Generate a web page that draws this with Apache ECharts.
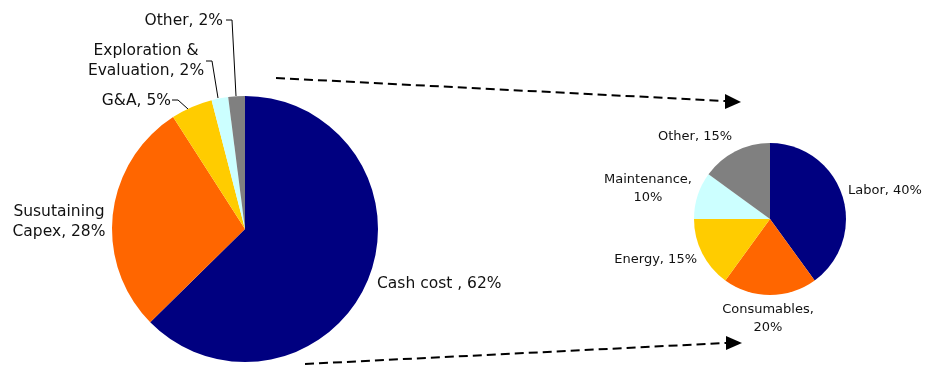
<!DOCTYPE html>
<html>
<head>
<meta charset="utf-8">
<script src="https://cdn.jsdelivr.net/npm/echarts@6/dist/echarts.min.js"></script>
<style>html,body{margin:0;padding:0;background:#fff;}#c{width:929px;height:365px;}</style>
</head>
<body>
<div id="c"></div>
<script>
// ---- data ----
var mainCategories = ['Cash cost ', 'Susutaining\nCapex', 'G&A', 'Exploration &\nEvaluation', 'Other'];
var mainValues = [62, 28, 5, 2, 2];
var cashCategories = ['Labor', 'Consumables,\n', 'Energy', 'Maintenance,\n', 'Other'];
var cashValues = [40, 20, 15, 10, 15];

// ---- styling ----
var colors = ['#000080', '#FF6600', '#FFCC00', '#CCFFFF', '#808080'];
var mainLabelPos = [
  {x: 377, y: 284, align: 'left'},
  {x: 59, y: 222, align: 'center'},
  {x: 171, y: 101, align: 'right', line: [[188, 109], [178, 100], [172, 100]]},
  {x: 146, y: 61, align: 'center', line: [[218, 98], [212, 61], [206, 61]]},
  {x: 223, y: 21, align: 'right', line: [[236, 96], [232, 20], [226, 20]]}
];
var cashLabelPos = [
  {x: 848, y: 191, align: 'left'},
  {x: 768, y: 319, align: 'center'},
  {x: 697, y: 260, align: 'right'},
  {x: 648, y: 189, align: 'center'},
  {x: 695, y: 137, align: 'center'}
];

function fmt(p) {
  var n = p.name;
  if (n.endsWith('\n')) return n + p.value + '%';
  return n + ', ' + p.value + '%';
}
function mkData(cats, vals, pos) {
  return cats.map(function (c, i) {
    return {name: c, value: vals[i], itemStyle: {color: colors[i]}, labelLine: {show: !!pos[i].line}};
  });
}
function layoutFn(pos) {
  return function (params) {
    var p = pos[params.dataIndex];
    var r = {x: p.x, y: p.y, align: p.align, verticalAlign: 'middle'};
    if (p.line) r.labelLinePoints = p.line;
    return r;
  };
}

var chart = echarts.init(document.getElementById('c'));
chart.setOption({
  animation: false,
  backgroundColor: '#fff',
  series: [
    {
      type: 'pie',
      center: [245, 229],
      radius: 133,
      startAngle: 90,
      clockwise: true,
      silent: true,
      data: mkData(mainCategories, mainValues, mainLabelPos),
      label: {
        show: true, position: 'outside', formatter: fmt, overflow: 'none', alignTo: 'none', bleedMargin: 0,
        fontFamily: 'DejaVu Sans', fontSize: 15.5, lineHeight: 20, color: '#111'
      },
      labelLine: {lineStyle: {color: '#000', width: 1}},
      labelLayout: layoutFn(mainLabelPos)
    },
    {
      type: 'pie',
      center: [770, 219],
      radius: 76,
      startAngle: 90,
      clockwise: true,
      silent: true,
      data: mkData(cashCategories, cashValues, cashLabelPos),
      label: {
        show: true, position: 'outside', formatter: fmt, overflow: 'none', alignTo: 'none', bleedMargin: 0,
        fontFamily: 'DejaVu Sans', fontSize: 13, lineHeight: 18, color: '#111'
      },
      labelLine: {lineStyle: {color: '#000', width: 1}},
      labelLayout: layoutFn(cashLabelPos)
    }
  ],
  graphic: [
    {type: 'polyline', shape: {points: [[276, 78], [725, 101]]}, style: {stroke: '#000', lineWidth: 2, lineDash: [9, 5], fill: null}},
    {type: 'polygon', shape: {points: [[725, 94], [741, 102], [725, 109]]}, style: {fill: '#000'}},
    {type: 'polyline', shape: {points: [[305, 364], [726, 343]]}, style: {stroke: '#000', lineWidth: 2, lineDash: [9, 5], fill: null}},
    {type: 'polygon', shape: {points: [[726, 336], [742, 343], [726, 350]]}, style: {fill: '#000'}}
  ]
});
</script>
</body>
</html>
